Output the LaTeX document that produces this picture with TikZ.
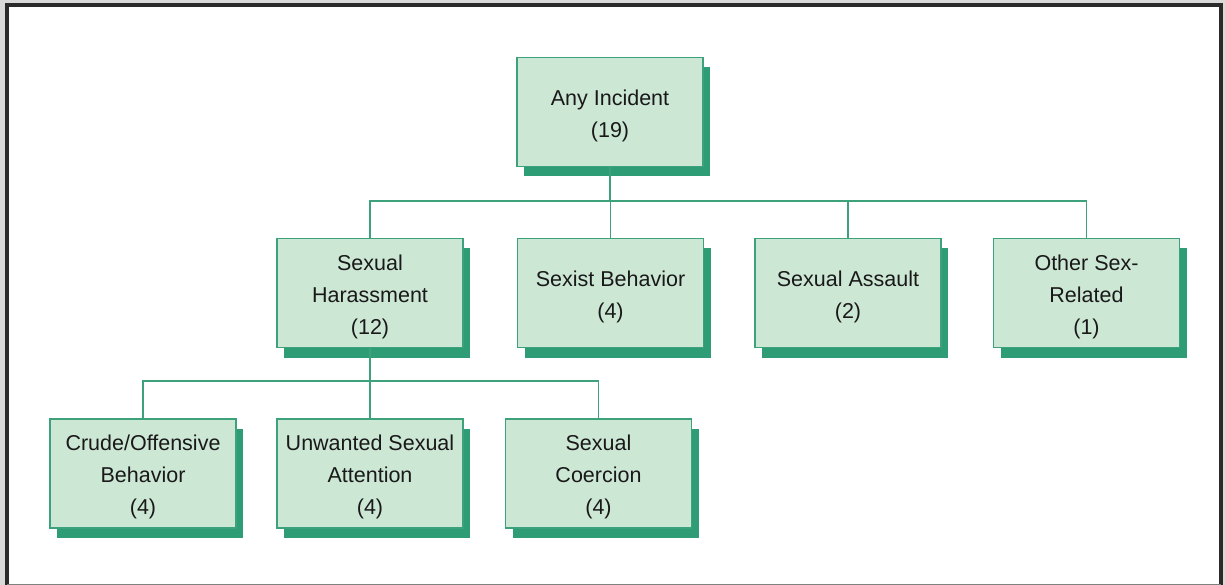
\documentclass[tikz,border=0pt]{standalone}
\usepackage{fontspec}
\setmainfont{Liberation Sans}
\usetikzlibrary{shadows}
\definecolor{boxfill}{HTML}{CDE7D5}
\definecolor{boxline}{HTML}{3DA27C}
\definecolor{shadowgreen}{HTML}{2E9C74}
\definecolor{framegray}{HTML}{2A2A2A}
\definecolor{outergray}{HTML}{D9D9D9}
\newcommand\boxtext[1]{\begin{tabular}{@{}c@{}}\rule{0pt}{28.4pt}#1\end{tabular}}
\tikzset{
  catbox/.style={draw=boxline, line width=1.6pt, fill=boxfill,
    minimum width=186pt, minimum height=109pt, inner sep=0pt,
    text=black!90,
    font=\fontsize{21.5}{32}\selectfont,
    drop shadow={fill=shadowgreen, opacity=1, shadow xshift=7pt, shadow yshift=-10pt}},
  link/.style={draw=boxline, line width=1.6pt}
}
\begin{document}
\begin{tikzpicture}[x=1pt,y=-1pt]
\useasboundingbox (0,0) rectangle (1225,585);
\fill[outergray] (0,0) rectangle (1225,585);
\fill[white] (7,5) rectangle (1221,585);
\draw[framegray, line width=4pt] (7,585) -- (7,5) -- (1221,5) -- (1221,585);
\draw[gray, line width=1pt] (7,584) -- (1221,584);

\node[catbox] (top) at (610,112) {\boxtext{Any Incident\\(19)}};

\node[catbox] (sh) at (370,293) {\boxtext{Sexual\\Harassment\\(12)}};
\node[catbox] (sb) at (610.5,293) {\boxtext{Sexist Behavior\\(4)}};
\node[catbox] (sa) at (848,293) {\boxtext{Sexual Assault\\(2)}};
\node[catbox] (os) at (1086.5,293) {\boxtext{Other Sex-\\Related\\(1)}};

\node[catbox] (cr) at (143,473.5) {\boxtext{Crude/Offensive\\Behavior\\(4)}};
\node[catbox] (uw) at (370,473.5) {\boxtext{Unwanted Sexual\\Attention\\(4)}};
\node[catbox] (co) at (598.5,473.5) {\boxtext{Sexual\\Coercion\\(4)}};

\coordinate (bus1) at (610,201);
\coordinate (bus2) at (370,381);

\draw[link] (top.south) -- (bus1);
\draw[link] (sh.north) |- (bus1);
\draw[link] (sb.north) |- (bus1);
\draw[link] (sa.north) |- (bus1);
\draw[link] (os.north) |- (bus1);

\draw[link] (sh.south) -- (bus2);
\draw[link] (cr.north) |- (bus2);
\draw[link] (uw.north) |- (bus2);
\draw[link] (co.north) |- (bus2);
\end{tikzpicture}
\end{document}
